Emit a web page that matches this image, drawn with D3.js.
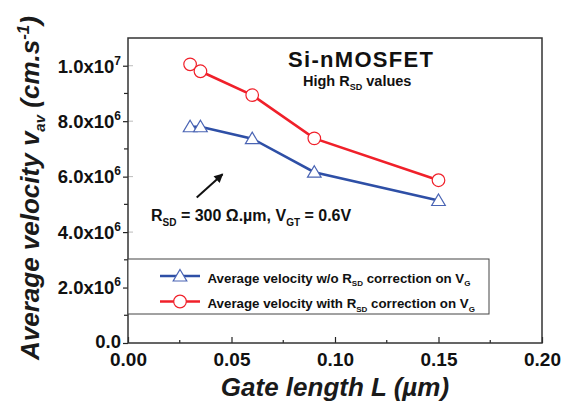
<!DOCTYPE html>
<html><head><meta charset="utf-8">
<script src="https://cdn.jsdelivr.net/npm/d3@7"></script>
<style>body{margin:0;background:#fff}svg{display:block;font-family:"Liberation Sans",Arial,sans-serif}</style>
</head><body><svg id="c" width="562" height="403"></svg>
<script>
const gateLength = [0.03, 0.035, 0.06, 0.09, 0.15];
const velocityWithout = [7.8e6, 7.8e6, 7.37e6, 6.16e6, 5.14e6];
const velocityWith = [1.005e7, 9.8e6, 8.94e6, 7.38e6, 5.87e6];
const xTicks = [0, 0.05, 0.10, 0.15, 0.20];
const xTickLabels = ["0.00", "0.05", "0.10", "0.15", "0.20"];
const yTicks = [0, 2e6, 4e6, 6e6, 8e6, 1e7];
const yTickLabels = [["0.0", ""], ["2.0x10", "6"], ["4.0x10", "6"], ["6.0x10", "6"], ["8.0x10", "6"], ["1.0x10", "7"]];
const seriesNames = ["Average velocity w/o R|SD| correction on V|G", "Average velocity with R|SD| correction on V|G"];

const svg = d3.select("#c");
const L = 128, R = 542, T = 38, B = 343;
const x = d3.scaleLinear().domain([0, 0.2]).range([L, R]);
const y = d3.scaleLinear().domain([0, 1.1e7]).range([B, T]);
const blue = "#2e4fa6", red = "#f0202a";
const font = '"Liberation Sans",Arial,sans-serif';

// minor ticks
const yMinor = d3.range(1e6, 1.1e7, 2e6);
svg.append("g").selectAll("line").data(yMinor).join("line")
  .attr("x1", L - 4).attr("x2", L).attr("y1", d => y(d)).attr("y2", d => y(d))
  .attr("stroke", "#222").attr("stroke-width", 1.2);
svg.append("g").selectAll("line").data(yTicks.slice(1)).join("line")
  .attr("x1", L).attr("x2", L + 5).attr("y1", d => y(d)).attr("y2", d => y(d))
  .attr("stroke", "#bbb").attr("stroke-width", 1);
const xMinor = d3.range(0.025, 0.2, 0.05);
svg.append("g").selectAll("line").data(xMinor).join("line")
  .attr("x1", d => x(d)).attr("x2", d => x(d)).attr("y1", B).attr("y2", B - 3)
  .attr("stroke", "#222").attr("stroke-width", 1.2);

// y axis
const ya = svg.append("g").attr("transform", `translate(${L},0)`)
  .call(d3.axisLeft(y).tickValues(yTicks).tickSize(5).tickFormat(""));
ya.select(".domain").remove();
ya.selectAll(".tick line").attr("stroke", "#222").attr("stroke-width", 1.2);
ya.selectAll(".tick").each(function(d, i) {
  const t = d3.select(this).append("text").attr("x", -7).attr("dy", i === 0 ? "0.22em" : "0.34em")
    .attr("text-anchor", "end").attr("fill", "#111")
    .style("font", `bold 18.5px ${font}`);
  const lab = yTickLabels[i];
  t.append("tspan").text(lab[0]);
  if (lab[1]) t.append("tspan").attr("dy", -8).style("font-size", "12px").text(lab[1]);
});

// x axis
const xa = svg.append("g").attr("transform", `translate(0,${B})`)
  .call(d3.axisBottom(x).tickValues(xTicks).tickSize(-6).tickFormat((d, i) => xTickLabels[i]));
xa.select(".domain").remove();
xa.selectAll(".tick line").attr("stroke", "#222").attr("stroke-width", 1.2);
xa.selectAll(".tick text").attr("y", 23).attr("dy", 0).attr("fill", "#111")
  .style("font", `bold 19px ${font}`);

// frame
svg.append("rect").attr("x", L).attr("y", T).attr("width", R - L).attr("height", B - T)
  .attr("fill", "none").attr("stroke", "#333").attr("stroke-width", 1.5);

// lines
const line = d3.line().x(d => x(d[0])).y(d => y(d[1]));
const dBlue = gateLength.map((g, i) => [g, velocityWithout[i]]);
const dRed = gateLength.map((g, i) => [g, velocityWith[i]]);
svg.append("path").attr("d", line(dBlue)).attr("fill", "none").attr("stroke", blue).attr("stroke-width", 2.6);
svg.append("path").attr("d", line(dRed)).attr("fill", "none").attr("stroke", red).attr("stroke-width", 2.6);

const tri = "M0,-6.5L6.8,5L-6.8,5Z";
svg.append("g").selectAll("path").data(dBlue).join("path")
  .attr("d", tri).attr("transform", d => `translate(${x(d[0])},${y(d[1])})`)
  .attr("fill", "#fff").attr("stroke", "#4a64b4").attr("stroke-width", 1.2);
svg.append("g").selectAll("circle").data(dRed).join("circle")
  .attr("cx", d => x(d[0])).attr("cy", d => y(d[1])).attr("r", 6.3)
  .attr("fill", "#fff").attr("stroke", red).attr("stroke-width", 1.2);

// helper for subscripted text
function rich(sel, str, size, subSize) {
  str.split("|").forEach((s, i) => {
    if (i % 2 === 1) sel.append("tspan").attr("dy", size * 0.3).style("font-size", subSize + "px").text(s);
    else { const t = sel.append("tspan").text(s); if (i > 0) t.attr("dy", -size * 0.3); }
  });
}

// titles
svg.append("text").attr("x", 288).attr("y", 67).attr("fill", "#111")
  .style("font", `bold 22px ${font}`).attr("textLength", 145).text("Si-nMOSFET");
rich(svg.append("text").attr("x", 303).attr("y", 86).attr("fill", "#111")
  .style("font", `bold 14.5px ${font}`), "High R|SD| values", 14.5, 9);

// annotation
rich(svg.append("text").attr("x", 151).attr("y", 221).attr("fill", "#111")
  .style("font", `bold 16px ${font}`), "R|SD| = 300 Ω.µm, V|GT| = 0.6V", 16, 10);
const arrowTail = [0.0332, 5.25e6], arrowHead = [0.0457, 6.09e6];
svg.append("defs").append("marker").attr("id", "ah").attr("viewBox", "0 0 10 10")
  .attr("refX", 9).attr("refY", 5).attr("markerWidth", 10).attr("markerHeight", 9)
  .attr("markerUnits", "userSpaceOnUse").attr("orient", "auto")
  .append("path").attr("d", "M0,0L10,5L0,10Z").attr("fill", "#111");
svg.append("line").attr("x1", x(arrowTail[0])).attr("y1", y(arrowTail[1]))
  .attr("x2", x(arrowHead[0])).attr("y2", y(arrowHead[1]))
  .attr("stroke", "#111").attr("stroke-width", 2).attr("marker-end", "url(#ah)");

// legend
svg.append("rect").attr("x", L).attr("y", 259).attr("width", 361).attr("height", 55)
  .attr("fill", "#fff").attr("stroke", "#444").attr("stroke-width", 1);
[[blue, "tri"], [red, "circ"]].forEach((s, i) => {
  const cy = 276 + i * 25.5;
  svg.append("line").attr("x1", 160).attr("x2", 200).attr("y1", cy).attr("y2", cy)
    .attr("stroke", s[0]).attr("stroke-width", 2.6);
  if (s[1] === "tri") svg.append("path").attr("d", tri).attr("transform", `translate(180,${cy})`)
    .attr("fill", "#fff").attr("stroke", "#4a64b4").attr("stroke-width", 1.2);
  else svg.append("circle").attr("cx", 180).attr("cy", cy).attr("r", 6.3)
    .attr("fill", "#fff").attr("stroke", red).attr("stroke-width", 1.2);
  rich(svg.append("text").attr("x", 207.5).attr("y", cy + 6.5).attr("fill", "#111")
    .style("font", `bold 13.3px ${font}`), seriesNames[i], 13.3, 8);
});

// axis titles
svg.append("text").attr("x", 335).attr("y", 396).attr("text-anchor", "middle").attr("fill", "#1a1a1a")
  .style("font", `italic bold 26px ${font}`).text("Gate length L (µm)");
const yt = svg.append("text").attr("transform", "translate(39,188) rotate(-90)")
  .attr("text-anchor", "middle").attr("fill", "#1a1a1a").style("font", `italic bold 26px ${font}`);
yt.append("tspan").text("Average velocity  v");
yt.append("tspan").attr("dy", 6).style("font-size", "15px").text("av");
yt.append("tspan").attr("dy", -6).text(" (cm.s");
yt.append("tspan").attr("dy", -10).style("font-size", "17px").text("-1");
yt.append("tspan").attr("dy", 10).text(")");
</script></body></html>
